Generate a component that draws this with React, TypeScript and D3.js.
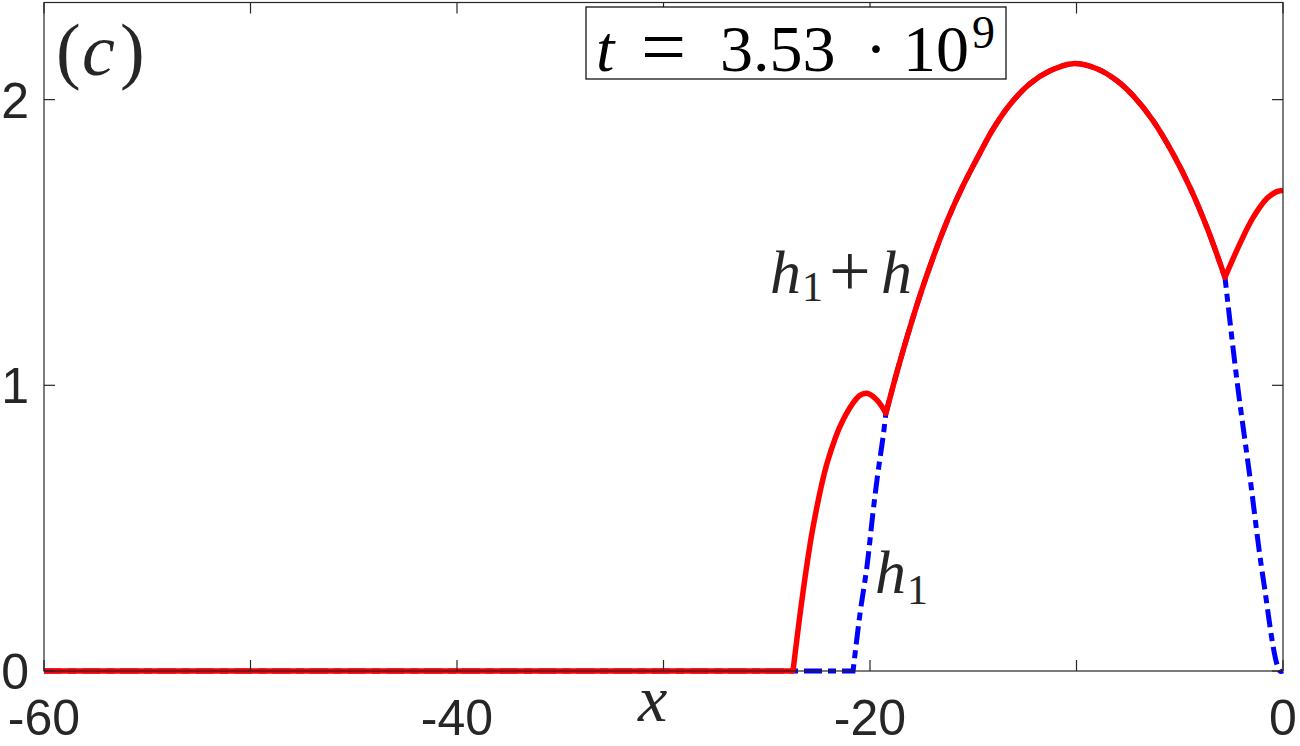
import * as d3 from "d3";

// data: [x, h] pairs
const flatRed = [[-60, 0], [-23.73, 0]];
const firstHump = [
  [-23.73, 0], [-23.25, 0.273], [-22.76, 0.503], [-22.08, 0.727], [-21.31, 0.878],
  [-20.48, 0.965], [-20.15, 0.972], [-19.66, 0.948], [-19.23, 0.902],
];
const mainHump = [
  [-19.23, 0.902], [-18.64, 1.061], [-17.97, 1.225], [-17.43, 1.347], [-16.85, 1.466],
  [-16.22, 1.583], [-15.5, 1.698], [-14.67, 1.814], [-14.04, 1.897], [-13.22, 1.983],
  [-12.25, 2.056], [-11.28, 2.101], [-10.17, 2.126], [-9.01, 2.108], [-8.04, 2.066],
  [-7.26, 2.014], [-6.3, 1.927], [-5.33, 1.811], [-4.5, 1.692], [-3.68, 1.552], [-2.81, 1.378],
];
const lastHump = [[-2.81, 1.378], [-2.08, 1.497], [-1.45, 1.587], [-0.78, 1.654], [-0.3, 1.678], [0, 1.682]];

const flatBlue = [[-60, 0], [-20.82, 0]];
const blueRise = [
  [-20.82, 0], [-20.48, 0.203], [-20.15, 0.364], [-19.86, 0.552], [-19.62, 0.692],
  [-19.37, 0.818], [-19.23, 0.902],
];
const blueFall = [[-2.81, 1.378], [-2.23, 1.017], [-1.6, 0.678], [-0.97, 0.329], [-0.15, 0], [0, 0]];

const xTicks = [-60, -50, -40, -30, -20, -10, 0];
const xLabels = [-60, -40, -20, 0];
const yTicks = [0, 1, 2];

const W = 1300, H = 746;
const left = 44, right = 1283, top = 2.5, bottom = 671;
const ink = "#262626";

function joinSegs(segs, line) {
  // one path so the dash pattern runs on across the kinks
  return segs.map((s, i) => (i === 0 ? line(s) : line(s).replace(/^M/, "L"))).join("");
}

export default function App() {
  const x = d3.scaleLinear().domain([-60, 0]).range([left, right]);
  const y = d3.scaleLinear().domain([0, 2.34]).range([bottom, top]);
  const line = d3.line().x(d => x(d[0])).y(d => y(d[1])).curve(d3.curveCatmullRom.alpha(0.5));

  const redPath = joinSegs([flatRed, firstHump, mainHump, lastHump], line);
  const bluePath = joinSegs([flatBlue, blueRise, mainHump, blueFall], line);
  const tk = 11;
  const serif = "'Liberation Serif', 'DejaVu Serif', serif";
  const sans = "'Liberation Sans', Arial, sans-serif";

  return (
    <svg width={W} height={H} style={{ position: "absolute", left: 0, top: 0, background: "#fff" }}>
      <path d={bluePath} fill="none" stroke="#0000ff" strokeWidth={5} strokeDasharray="18,6,8,6" />
      <path d={redPath} fill="none" stroke="#ff0000" strokeWidth={5.5} strokeLinejoin="round" />

      <rect x={left} y={top} width={right - left} height={bottom - top} fill="none" stroke={ink} strokeWidth={1.2} />
      {xTicks.map(t => (
        <g key={"x" + t}>
          <line x1={x(t)} x2={x(t)} y1={bottom} y2={bottom - tk} stroke={ink} strokeWidth={1.2} />
          <line x1={x(t)} x2={x(t)} y1={top} y2={top + tk} stroke={ink} strokeWidth={1.2} />
        </g>
      ))}
      {yTicks.map(t => (
        <g key={"y" + t}>
          <line x1={left} x2={left + tk} y1={y(t)} y2={y(t)} stroke={ink} strokeWidth={1.2} />
          <line x1={right} x2={right - tk} y1={y(t)} y2={y(t)} stroke={ink} strokeWidth={1.2} />
          <text x={29} y={y(t) + 18} textAnchor="end" fontFamily={sans} fontSize={50} fill={ink}>{t}</text>
        </g>
      ))}
      {xLabels.map(t => (
        <text key={"xl" + t} x={x(t)} y={735} textAnchor="middle" fontFamily={sans} fontSize={50} fill={ink}>{t}</text>
      ))}

      <text x={638} y={721} fontFamily={serif} fontStyle="italic" fontSize={66} fill={ink}>x</text>

      <text y={75} fontFamily={serif} fontSize={74} fill={ink}>
        <tspan x={56}>(</tspan>
        <tspan x={82} fontStyle="italic">c</tspan>
        <tspan x={120}>)</tspan>
      </text>

      <rect x={586} y={7} width={420} height={72} fill="#fff" stroke="#000" strokeWidth={1.2} />
      <text y={71} fontFamily={serif} fontSize={66} fill="#000">
        <tspan x={596} fontStyle="italic">t</tspan>
        <tspan x={641} fontSize={80} y={74}>=</tspan>
        <tspan x={720} y={71}>3.53</tspan>
        <tspan x={865}>·</tspan>
        <tspan x={903}>10</tspan>
        <tspan x={972} y={48} fontSize={46}>9</tspan>
      </text>

      <text y={293} fontFamily={serif} fontSize={62} fill={ink}>
        <tspan x={770} fontStyle="italic">h</tspan>
        <tspan x={802} y={301} fontSize={42}>1</tspan>
        <tspan x={829} y={296} fontSize={74}>+</tspan>
        <tspan x={881} y={293} fontStyle="italic">h</tspan>
      </text>

      <text y={593} fontFamily={serif} fontSize={62} fill={ink}>
        <tspan x={875} fontStyle="italic">h</tspan>
        <tspan x={907} y={604} fontSize={42}>1</tspan>
      </text>
    </svg>
  );
}
